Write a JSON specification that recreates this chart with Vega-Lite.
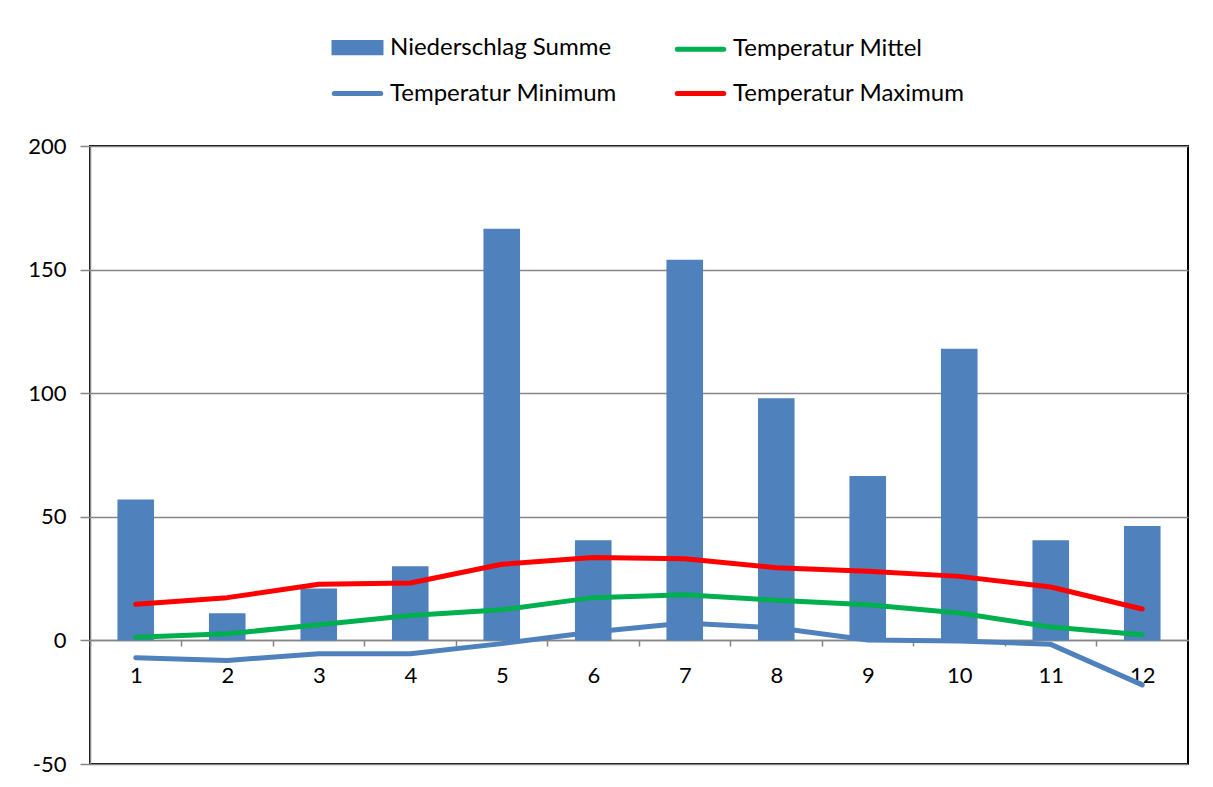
{
  "$schema": "https://vega.github.io/schema/vega-lite/v6.json",
  "autosize": {"type": "none"},
  "padding": {"left": 90, "top": 146, "right": 25, "bottom": 23},
  "width": 1098,
  "height": 618,
  "background": "white",
  "config": {
    "view": {"stroke": "#000000", "strokeWidth": 2},
    "font": "Lato"
  },
  "data": {
    "values": [
      {"month": 1, "series": "Niederschlag Summe", "value": 57},
      {"month": 2, "series": "Niederschlag Summe", "value": 11},
      {"month": 3, "series": "Niederschlag Summe", "value": 21},
      {"month": 4, "series": "Niederschlag Summe", "value": 30},
      {"month": 5, "series": "Niederschlag Summe", "value": 166.5},
      {"month": 6, "series": "Niederschlag Summe", "value": 40.5},
      {"month": 7, "series": "Niederschlag Summe", "value": 154},
      {"month": 8, "series": "Niederschlag Summe", "value": 98},
      {"month": 9, "series": "Niederschlag Summe", "value": 66.5},
      {"month": 10, "series": "Niederschlag Summe", "value": 118},
      {"month": 11, "series": "Niederschlag Summe", "value": 40.5},
      {"month": 12, "series": "Niederschlag Summe", "value": 46.3},
      {"month": 1, "series": "Temperatur Mittel", "value": 1.3},
      {"month": 2, "series": "Temperatur Mittel", "value": 2.7},
      {"month": 3, "series": "Temperatur Mittel", "value": 6.3},
      {"month": 4, "series": "Temperatur Mittel", "value": 10.1},
      {"month": 5, "series": "Temperatur Mittel", "value": 12.4},
      {"month": 6, "series": "Temperatur Mittel", "value": 17.3},
      {"month": 7, "series": "Temperatur Mittel", "value": 18.5},
      {"month": 8, "series": "Temperatur Mittel", "value": 16.2},
      {"month": 9, "series": "Temperatur Mittel", "value": 14.4},
      {"month": 10, "series": "Temperatur Mittel", "value": 11.1},
      {"month": 11, "series": "Temperatur Mittel", "value": 5.4},
      {"month": 12, "series": "Temperatur Mittel", "value": 2.3},
      {"month": 1, "series": "Temperatur Minimum", "value": -7},
      {"month": 2, "series": "Temperatur Minimum", "value": -8.1},
      {"month": 3, "series": "Temperatur Minimum", "value": -5.4},
      {"month": 4, "series": "Temperatur Minimum", "value": -5.4},
      {"month": 5, "series": "Temperatur Minimum", "value": -1.3},
      {"month": 6, "series": "Temperatur Minimum", "value": 3.4},
      {"month": 7, "series": "Temperatur Minimum", "value": 7},
      {"month": 8, "series": "Temperatur Minimum", "value": 5.1},
      {"month": 9, "series": "Temperatur Minimum", "value": 0.2},
      {"month": 10, "series": "Temperatur Minimum", "value": -0.2},
      {"month": 11, "series": "Temperatur Minimum", "value": -1.6},
      {"month": 12, "series": "Temperatur Minimum", "value": -18},
      {"month": 1, "series": "Temperatur Maximum", "value": 14.6},
      {"month": 2, "series": "Temperatur Maximum", "value": 17.3},
      {"month": 3, "series": "Temperatur Maximum", "value": 22.7},
      {"month": 4, "series": "Temperatur Maximum", "value": 23.2},
      {"month": 5, "series": "Temperatur Maximum", "value": 30.8},
      {"month": 6, "series": "Temperatur Maximum", "value": 33.5},
      {"month": 7, "series": "Temperatur Maximum", "value": 33},
      {"month": 8, "series": "Temperatur Maximum", "value": 29.4},
      {"month": 9, "series": "Temperatur Maximum", "value": 28},
      {"month": 10, "series": "Temperatur Maximum", "value": 25.9},
      {"month": 11, "series": "Temperatur Maximum", "value": 21.6},
      {"month": 12, "series": "Temperatur Maximum", "value": 12.7}
    ]
  },
  "encoding": {
    "x": {
      "field": "month",
      "type": "ordinal",
      "scale": {"paddingInner": 0.6, "paddingOuter": 0.3},
      "axis": {
        "title": null,
        "labelAngle": 0,
        "offset": -124,
        "domainColor": "#868686",
        "domainWidth": 1.5,
        "tickColor": "#868686",
        "tickWidth": 1.5,
        "tickSize": 6,
        "tickOffset": -45.75,
        "labelOffset": 45.75,
        "labelFontSize": 22,
        "labelColor": "#000000",
        "labelPadding": 19,
        "grid": false
      }
    },
    "y": {
      "field": "value",
      "type": "quantitative",
      "scale": {"domain": [-50, 200], "nice": false, "zero": false},
      "axis": {
        "title": null,
        "values": [-50, 0, 50, 100, 150, 200],
        "labelExpr": "'' + datum.value",
        "grid": true,
        "gridColor": "#868686",
        "gridWidth": 1.5,
        "domainColor": "#868686",
        "domainWidth": 1.5,
        "tickColor": "#868686",
        "tickWidth": 1.5,
        "tickSize": 10,
        "labelFontSize": 22,
        "labelColor": "#000000",
        "labelPadding": 14
      }
    },
    "color": {
      "field": "series",
      "type": "nominal",
      "scale": {
        "domain": ["Niederschlag Summe", "Temperatur Mittel", "Temperatur Minimum", "Temperatur Maximum"],
        "range": ["#4F81BD", "#00B050", "#4F81BD", "#FF0000"]
      },
      "legend": {
        "title": null,
        "orient": "none",
        "legendX": 238,
        "legendY": -128,
        "direction": "horizontal",
        "columns": 2,
        "columnPadding": 50,
        "rowPadding": 1,
        "padding": 0,
        "labelFontSize": 24,
        "labelColor": "#000000",
        "labelOffset": 3,
        "symbolSize": 2916,
        "labelLimit": 400,
        "encode": {
          "symbols": {
            "update": {
              "shape": {"signal": "datum.label == 'Niederschlag Summe' ? 'M-0.87,-0.19H0.87V0.19H-0.87Z' : 'M-0.86,0H0.86'"},
              "fill": {"signal": "datum.label == 'Niederschlag Summe' ? '#4F81BD' : 'transparent'"},
              "stroke": {"signal": "datum.label == 'Niederschlag Summe' ? 'transparent' : scale('color', datum.value)"},
              "strokeWidth": {"value": 5},
              "strokeCap": {"value": "round"},
              "opacity": {"value": 1},
              "fillOpacity": {"value": 1},
              "strokeOpacity": {"value": 1}
            }
          }
        }
      }
    }
  },
  "layer": [
    {
      "transform": [{"filter": "datum.series == 'Niederschlag Summe'"}],
      "mark": {"type": "bar"}
    },
    {
      "transform": [{"filter": "datum.series != 'Niederschlag Summe'"}],
      "mark": {"type": "line", "strokeWidth": 5, "strokeJoin": "round", "strokeCap": "round"},
      "encoding": {"detail": {"field": "series"}}
    }
  ]
}
